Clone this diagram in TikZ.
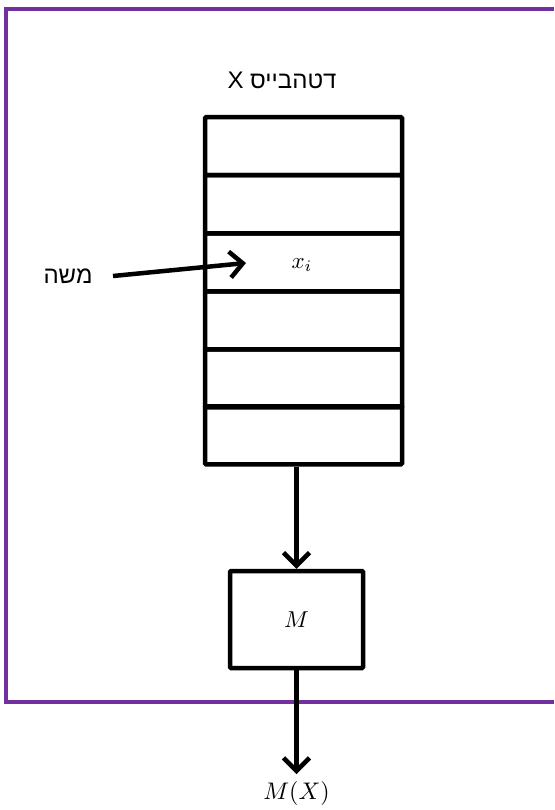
\documentclass[tikz,border=0pt]{standalone}
\usepackage{graphicx}
\usepackage{fontspec}
\usetikzlibrary{arrows.meta}
\TeXXeTstate=1
\newfontfamily\hebfont[Script=Hebrew]{Liberation Sans}
\definecolor{frame}{HTML}{7030A0}
\begin{document}
\begin{tikzpicture}[x=1pt,y=-1pt,
  arr/.style={line width=4.5pt,-{Straight Barb[length=13pt,width=26pt,line width=4.5pt]}},
  cell/.style={draw,line width=4.5pt,minimum width=197pt,minimum height=58pt,inner sep=0pt,anchor=north,rounded corners=1pt},
  heb/.style={font=\hebfont\fontsize{24}{28}\selectfont}]
\useasboundingbox (0,0) rectangle (554,810);
% purple frame (open on the right)
\draw[frame,line width=4.5pt] (554,9) -- (6,9) -- (6,702) -- (554,702);
% title
\node[heb] (title) at (282,80) {\beginR דטהבייס X\endR};
% database cells
\node[cell] (r1) at (303.5,115) {};
\node[cell] (r2) at (303.5,173) {};
\node[cell] (r3) at (303.5,231) {};
\node[cell] (r4) at (303.5,289) {};
\node[cell] (r5) at (303.5,347) {};
\node[cell] (r6) at (303.5,404) {};
\node (xi) at (302,265) {\scalebox{2.3}{$x_i$}};
% Moshe
\node[heb] (moshe) at (68,276) {\beginR משה\endR};
\coordinate (ms) at (113,276);
\coordinate (me) at (246,263);
\draw[arr] (ms) -- (me);
% M box
\node[draw,line width=4.5pt,minimum width=133pt,minimum height=97pt,rounded corners=1pt] (M) at (296.5,619.5) {\scalebox{2.3}{$M$}};
\draw[arr] (r6.south -| M.north) -- (M.north);
\node[inner sep=1pt] (MX) at (296.5,793) {\scalebox{2.4}{$M(X)$}};
\coordinate (tipend) at (296.5,774);
\draw[arr] (M.south) -- (tipend);
\end{tikzpicture}
\end{document}
